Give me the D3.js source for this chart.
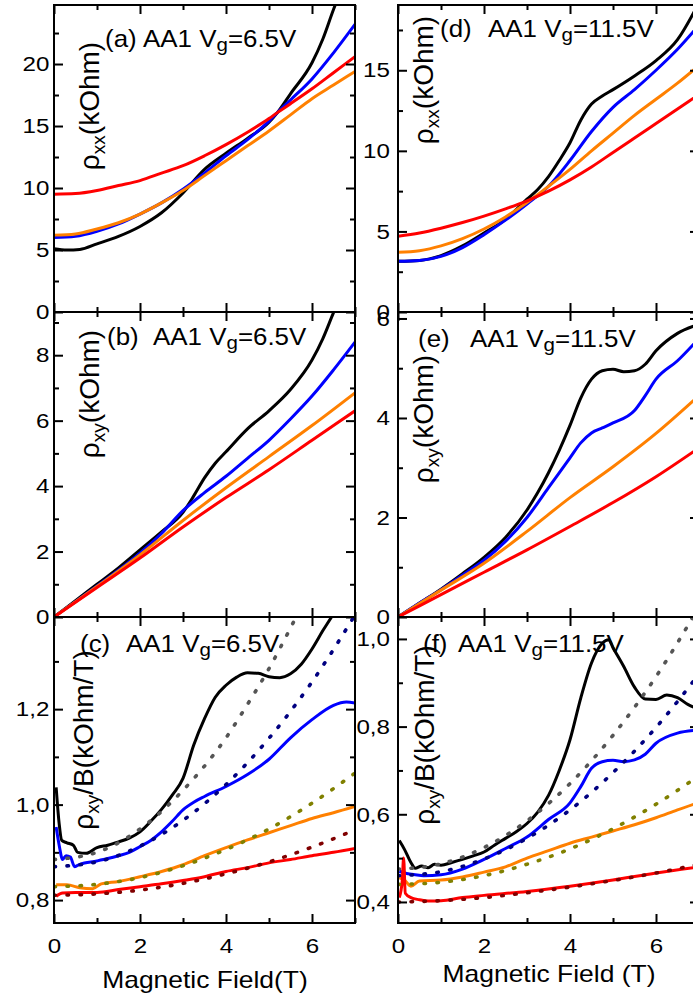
<!DOCTYPE html>
<html><head><meta charset="utf-8">
<script src="https://cdn.jsdelivr.net/npm/d3@7"></script>
<style>body{margin:0;background:#fff}svg{display:block}text{font-family:"Liberation Sans",Arial,sans-serif;fill:#000}</style>
</head><body><svg id="chart" width="693" height="998"></svg>
<script>
// ---------- tick labels ----------
const xMajor = [0, 2, 4, 6];
const xMinor = [1, 3, 5, 7];
const aMajor = [0, 5, 10, 15, 20], aMinor = [2.5, 7.5, 12.5, 17.5, 22.5];
const bMajor = [0, 2, 4, 6, 8], bMinor = [1, 3, 5, 7, 9];
const cMajor = [0.8, 1.0, 1.2], cMinor = [0.9, 1.1, 1.3];
const dMajor = [0, 5, 10, 15], dMinor = [2.5, 7.5, 12.5, 17.5];
const eMajor = [0, 2, 4, 6], eMinor = [1, 3, 5];
const fMajor = [0.4, 0.6, 0.8, 1.0], fMinor = [0.5, 0.7, 0.9];

// ---------- panel (a): rho_xx, Vg=6.5V ----------
const a_black = [[0,5.1],[0.3,5.0],[0.6,5.05],[1,5.5],[1.5,6.1],[2,6.9],[2.5,8.0],[3,9.6],[3.5,11.5],[4,12.8],[4.5,14.0],[5,15.3],[5.2,16.1],[5.5,17.6],[6,20.1],[6.25,22.0],[6.5,24.4],[7,28.5]];
const a_blue = [[0,6.0],[0.5,6.1],[1,6.5],[1.5,7.1],[2,7.9],[2.5,8.8],[3,9.9],[3.5,11.2],[4,12.6],[4.5,13.9],[5,15.4],[5.2,16.1],[5.5,17.1],[6,18.8],[6.5,20.9],[7,23.2]];
const a_orange = [[0,6.2],[0.5,6.3],[1,6.7],[1.5,7.2],[2,7.9],[2.5,8.8],[3,9.8],[3.5,11.0],[4,12.2],[4.5,13.4],[5,14.6],[5.5,15.9],[6,17.2],[6.5,18.3],[7,19.4]];
const a_red = [[0,9.5],[0.5,9.55],[1,9.8],[1.5,10.2],[2,10.6],[2.5,11.2],[3,11.8],[3.5,12.6],[4,13.5],[4.5,14.5],[5,15.6],[5.2,16.1],[5.5,16.8],[6,18.0],[6.5,19.3],[7,20.6]];

// ---------- panel (b): rho_xy, Vg=6.5V ----------
const b_black = [[0,0],[0.5,0.5],[1,1.0],[1.5,1.5],[2,2.05],[2.5,2.6],[3,3.2],[3.25,3.7],[3.5,4.25],[3.75,4.7],[4,5.05],[4.5,5.75],[5,6.3],[5.5,6.95],[6,7.85],[6.25,8.5],[6.5,9.3],[7,10.8]];
const b_blue = [[0,0],[1,0.95],[2,1.95],[2.5,2.55],[3,3.25],[3.5,3.8],[4,4.3],[4.5,4.85],[5,5.4],[5.5,6.05],[6,6.75],[6.5,7.55],[7,8.4]];
const b_orange = [[0,0],[1,0.93],[2,1.9],[3,2.95],[4,3.95],[5,4.9],[6,5.85],[7,6.85]];
const b_red = [[0,0],[1,0.9],[2,1.8],[3,2.75],[4,3.65],[5,4.5],[6,5.4],[7,6.3]];

// ---------- panel (c): rho_xy/B, Vg=6.5V ----------
const c_black = [[0.05,1.036],[0.12,0.96],[0.18,0.925],[0.3,0.92],[0.45,0.915],[0.55,0.9],[0.75,0.898],[1,0.91],[1.25,0.915],[1.5,0.922],[1.75,0.93],[2,0.943],[2.25,0.965],[2.5,0.99],[2.75,1.02],[3,1.055],[3.25,1.125],[3.5,1.18],[3.75,1.225],[4,1.25],[4.25,1.267],[4.5,1.276],[4.75,1.275],[5,1.268],[5.25,1.266],[5.5,1.274],[5.75,1.294],[6,1.326],[6.25,1.364],[6.5,1.4],[7,1.49]];
const c_blue = [[0.05,0.953],[0.12,0.915],[0.2,0.885],[0.28,0.893],[0.38,0.89],[0.48,0.87],[0.6,0.875],[1,0.882],[1.25,0.887],[1.5,0.893],[1.75,0.9],[2,0.912],[2.25,0.925],[2.5,0.943],[2.75,0.965],[3,0.989],[3.25,1.005],[3.5,1.017],[4,1.038],[4.5,1.063],[5,1.095],[5.5,1.14],[6,1.178],[6.5,1.208],[6.8,1.215],[7,1.213]];
const c_orange = [[0.05,0.832],[0.3,0.832],[0.6,0.826],[0.9,0.824],[1.1,0.834],[1.5,0.839],[2,0.849],[2.5,0.86],[3,0.874],[3.5,0.893],[4,0.91],[4.5,0.926],[5,0.941],[5.5,0.956],[6,0.971],[6.5,0.983],[7,0.996]];
const c_red = [[0.05,0.808],[0.2,0.815],[0.5,0.816],[1,0.816],[1.5,0.822],[2,0.828],[2.5,0.834],[3,0.841],[3.5,0.849],[4,0.86],[4.5,0.868],[5,0.878],[5.5,0.885],[6,0.893],[6.5,0.9],[7,0.908]];
const c_fitBlack = [[0,0.885],[1,0.9],[2,0.949],[3,1.03],[4,1.14],[4.5,1.21],[5,1.285],[5.5,1.37],[6,1.46]];
const c_fitBlue = [[0,0.87],[1,0.88],[2,0.913],[3,0.967],[4,1.042],[5,1.139],[6,1.257],[7,1.397]];
const c_fitOrange = [[0,0.828],[1,0.833],[2,0.847],[3,0.872],[4,0.906],[5,0.949],[6,1.003],[7,1.066]];
const c_fitRed = [[0,0.81],[1,0.813],[2,0.821],[3,0.835],[4,0.855],[5,0.88],[6,0.911],[7,0.947]];

// ---------- panel (d): rho_xx, Vg=11.5V ----------
const d_black = [[0,3.15],[0.5,3.2],[1,3.5],[1.5,4.1],[2,4.9],[2.5,5.75],[3,7.0],[3.25,7.6],[3.5,8.4],[3.75,9.4],[4,10.5],[4.25,11.9],[4.5,12.9],[4.75,13.4],[5,13.8],[5.5,14.65],[6,15.6],[6.5,16.9],[7,19.2]];
const d_blue = [[0,3.15],[0.5,3.2],[1,3.45],[1.5,4.0],[2,4.8],[2.5,5.7],[3,6.7],[3.5,7.8],[4,9.4],[4.5,11.2],[5,12.7],[5.5,13.8],[6,15.0],[6.5,16.3],[7,17.8]];
const d_orange = [[0,3.7],[0.5,3.8],[1,4.1],[1.5,4.55],[2,5.15],[2.5,5.9],[3,6.8],[3.5,7.8],[4,8.85],[4.5,10.0],[5,11.1],[5.5,12.2],[6,13.2],[6.5,14.2],[7,15.3]];
const d_red = [[0,4.7],[0.5,4.9],[1,5.2],[1.5,5.55],[2,5.95],[2.5,6.4],[3,6.9],[3.5,7.5],[4,8.2],[4.5,9.0],[5,9.9],[5.5,10.8],[6,11.7],[6.5,12.6],[7,13.5]];

// ---------- panel (e): rho_xy, Vg=11.5V ----------
const e_black = [[0,0],[0.5,0.28],[1,0.56],[1.5,0.87],[2,1.2],[2.5,1.6],[3,2.15],[3.25,2.5],[3.5,2.9],[3.75,3.35],[4,3.85],[4.25,4.4],[4.5,4.78],[4.75,4.95],[5,4.98],[5.25,4.93],[5.5,4.95],[5.75,5.08],[6,5.35],[6.5,5.7],[7,5.88]];
const e_blue = [[0,0],[0.5,0.28],[1,0.55],[1.5,0.84],[2,1.14],[2.5,1.52],[3,2.0],[3.5,2.6],[4,3.2],[4.25,3.5],[4.5,3.7],[4.75,3.8],[5,3.9],[5.5,4.15],[5.75,4.45],[6,4.78],[6.5,5.15],[7,5.6]];
const e_orange = [[0,0],[1,0.54],[2,1.08],[3,1.72],[4,2.4],[5,3.02],[6,3.69],[7,4.45]];
const e_red = [[0,0],[1,0.45],[2,0.9],[3,1.35],[4,1.82],[5,2.3],[6,2.82],[7,3.4]];

// ---------- panel (f): rho_xy/B, Vg=11.5V ----------
const f_black = [[0.03,0.54],[0.15,0.52],[0.3,0.49],[0.4,0.477],[0.55,0.482],[0.7,0.478],[0.85,0.486],[1,0.484],[1.25,0.49],[1.5,0.497],[1.75,0.505],[2,0.514],[2.25,0.53],[2.5,0.545],[2.75,0.56],[3,0.579],[3.25,0.605],[3.5,0.643],[3.75,0.7],[4,0.77],[4.25,0.865],[4.5,0.945],[4.75,0.99],[4.9,0.998],[5,0.98],[5.25,0.937],[5.5,0.89],[5.75,0.863],[6,0.862],[6.25,0.872],[6.5,0.866],[6.75,0.85],[7,0.84]];
const f_blue = [[0.03,0.47],[0.2,0.465],[0.4,0.462],[0.6,0.46],[1,0.462],[1.5,0.475],[2,0.497],[2.5,0.522],[3,0.548],[3.5,0.588],[4,0.626],[4.25,0.663],[4.5,0.705],[4.75,0.72],[5,0.723],[5.25,0.72],[5.5,0.724],[5.75,0.737],[6,0.762],[6.5,0.785],[7,0.792]];
const f_orange = [[0.03,0.455],[0.15,0.45],[0.3,0.436],[0.5,0.448],[1,0.45],[1.5,0.457],[2,0.468],[2.5,0.48],[3,0.5],[3.5,0.517],[4,0.534],[4.5,0.548],[5,0.562],[5.5,0.576],[6,0.592],[6.5,0.61],[7,0.627]];
const f_red = [[0.03,0.41],[0.1,0.45],[0.13,0.5],[0.17,0.42],[0.3,0.41],[0.5,0.405],[0.7,0.402],[1,0.403],[1.5,0.41],[2,0.415],[3,0.424],[4,0.436],[5,0.45],[6,0.466],[7,0.48]];
const f_fitBlack = [[0,0.475],[1,0.487],[2,0.524],[3,0.585],[4,0.67],[5,0.78],[6,0.914],[7,1.073]];
const f_fitBlue = [[0,0.46],[1,0.469],[2,0.498],[3,0.545],[4,0.61],[5,0.695],[6,0.798],[7,0.92]];
const f_fitOrange = [[0,0.44],[1,0.445],[2,0.46],[3,0.486],[4,0.521],[5,0.567],[6,0.623],[7,0.688]];
const f_fitRed = [[0,0.4],[1,0.403],[2,0.41],[3,0.421],[4,0.434],[5,0.449],[6,0.466],[7,0.486]];

// ---------- styling / layout ----------
const COL = {black:"#000000", blue:"#0000ff", orange:"#ff8000", red:"#ff0000"};
const FIT = {black:"#555555", blue:"#000080", orange:"#808000", red:"#800000"};
const colX = [54, 398], PW = 301;
const rowY = [5, 312, 617, 923];
const SX = 1.15;

const svg = d3.select("#chart");
svg.append("rect").attr("width",693).attr("height",998).attr("fill","#fff");

const comma = d => d3.format(".1f")(d).replace(".", ",");
const panels = [
  {k:"a", col:0,row:0, dom:[0,24.76], major:aMajor, minor:aMinor, fmt:d=>d,
   lines:[["black",a_black],["blue",a_blue],["orange",a_orange],["red",a_red]], fits:[],
   tag:"(a)", tagX:105, mainX:143, ty:47, vg:"=6.5V",
   yl:{sub:"xx", rest:"(kOhm)", x:99, cy:106}},
  {k:"b", col:0,row:1, dom:[0,9.32], major:bMajor, minor:bMinor, fmt:d=>d,
   lines:[["black",b_black],["blue",b_blue],["orange",b_orange],["red",b_red]], fits:[],
   tag:"(b)", tagX:107, mainX:153, ty:345, vg:"=6.5V",
   yl:{sub:"xy", rest:"(kOhm)", x:99, cy:394}},
  {k:"c", col:0,row:2, dom:[0.752,1.393], major:cMajor, minor:cMinor, fmt:comma,
   lines:[["black",c_black],["blue",c_blue],["orange",c_orange],["red",c_red]],
   fits:[["black",c_fitBlack],["blue",c_fitBlue],["orange",c_fitOrange],["red",c_fitRed]],
   tag:"(c)", tagX:80, mainX:126, ty:652, vg:"=6.5V",
   yl:{sub:"xy", rest:"/B(kOhm/T)", x:93, cy:740}},
  {k:"d", col:1,row:0, dom:[0,19.05], major:dMajor, minor:dMinor, fmt:d=>d,
   lines:[["black",d_black],["blue",d_blue],["orange",d_orange],["red",d_red]], fits:[],
   tag:"(d)", tagX:440, mainX:488, ty:37, vg:"=11.5V",
   yl:{sub:"xx", rest:"(kOhm)", x:433, cy:80}},
  {k:"e", col:1,row:1, dom:[0,6.13], major:eMajor, minor:eMinor, fmt:d=>d,
   lines:[["black",e_black],["blue",e_blue],["orange",e_orange],["red",e_red]], fits:[],
   tag:"(e)", tagX:418, mainX:470, ty:347, vg:"=11.5V",
   yl:{sub:"xy", rest:"(kOhm)", x:433, cy:419}},
  {k:"f", col:1,row:2, dom:[0.352,1.05], major:fMajor, minor:fMinor, fmt:comma,
   lines:[["black",f_black],["blue",f_blue],["orange",f_orange],["red",f_red]],
   fits:[["black",f_fitBlack],["blue",f_fitBlue],["orange",f_fitOrange],["red",f_fitRed]],
   tag:"(f)", tagX:423, mainX:458, ty:652, vg:"=11.5V",
   yl:{sub:"xy", rest:"/B(kOhm/T)", x:434, cy:735}}
];

const defs = svg.append("defs");

function styleAxis(sel, withText) {
  sel.select(".domain").remove();
  sel.selectAll(".tick line").attr("stroke","#000").attr("stroke-width",2);
  sel.attr("font-size",21).attr("font-family","'Liberation Sans', Arial, sans-serif");
  if (withText) sel.selectAll(".tick text").attr("fill","#000").attr("transform",`scale(${SX},1)`);
}

panels.forEach(p => {
  const x0 = colX[p.col], y0 = rowY[p.row], y1 = rowY[p.row+1];
  const xs = d3.scaleLinear().domain([0,7]).range([x0, x0+PW]);
  const ys = d3.scaleLinear().domain(p.dom).range([y1, y0]);
  const clipId = "clip-"+p.k;
  defs.append("clipPath").attr("id",clipId).append("rect")
    .attr("x",x0).attr("y",y0).attr("width",PW).attr("height",y1-y0);
  const g = svg.append("g");
  const plot = g.append("g").attr("clip-path",`url(#${clipId})`);
  const line = d3.line().x(d=>xs(d[0])).y(d=>ys(d[1])).curve(d3.curveMonotoneX);
  p.lines.forEach(([c,data]) => {
    plot.append("path").datum(data).attr("d",line).attr("fill","none")
      .attr("stroke",COL[c]).attr("stroke-width",3).attr("stroke-linejoin","round");
  });
  p.fits.forEach(([c,data]) => {
    plot.append("path").datum(data).attr("d",line).attr("fill","none")
      .attr("stroke",FIT[c]).attr("stroke-width",3.6).attr("stroke-linecap","round")
      .attr("stroke-dasharray","1.5 11.5");
  });

  const pad = p.col===0 ? 4 : 7;
  g.append("g").attr("transform",`translate(${x0},0)`)
    .call(d3.axisLeft(ys).tickValues(p.major).tickSize(-9).tickPadding(pad).tickFormat(p.fmt))
    .call(s=>styleAxis(s,true));
  g.append("g").attr("transform",`translate(${x0},0)`)
    .call(d3.axisLeft(ys).tickValues(p.minor).tickSize(-5).tickFormat(""))
    .call(s=>styleAxis(s,false));
  g.append("g").attr("transform",`translate(${x0+PW},0)`)
    .call(d3.axisRight(ys).tickValues(p.major).tickSize(-9).tickFormat(""))
    .call(s=>styleAxis(s,false));
  g.append("g").attr("transform",`translate(${x0+PW},0)`)
    .call(d3.axisRight(ys).tickValues(p.minor).tickSize(-5).tickFormat(""))
    .call(s=>styleAxis(s,false));
  g.append("g").attr("transform",`translate(0,${y0})`)
    .call(d3.axisTop(xs).tickValues(xMajor).tickSize(-9).tickFormat(""))
    .call(s=>styleAxis(s,false));
  g.append("g").attr("transform",`translate(0,${y0})`)
    .call(d3.axisTop(xs).tickValues(xMinor).tickSize(-5).tickFormat(""))
    .call(s=>styleAxis(s,false));
  const bottomLabels = p.row===2;
  g.append("g").attr("transform",`translate(0,${y1})`)
    .call(d3.axisBottom(xs).tickValues(xMajor).tickSize(-9).tickPadding(15)
      .tickFormat(bottomLabels ? d3.format("d") : ""))
    .call(s=>styleAxis(s,bottomLabels));
  g.append("g").attr("transform",`translate(0,${y1})`)
    .call(d3.axisBottom(xs).tickValues(xMinor).tickSize(-5).tickFormat(""))
    .call(s=>styleAxis(s,false));
  g.append("rect").attr("x",x0).attr("y",y0).attr("width",PW).attr("height",y1-y0)
    .attr("fill","none").attr("stroke","#000").attr("stroke-width",2);

  g.append("text").attr("transform",`translate(${p.tagX},${p.ty}) scale(1.08,1)`)
    .attr("font-size",24).text(p.tag);
  const t = g.append("text").attr("transform",`translate(${p.mainX},${p.ty}) scale(1.08,1)`)
    .attr("font-size",24);
  t.append("tspan").text("AA1 V");
  t.append("tspan").attr("font-size",19).attr("dy",4).text("g");
  t.append("tspan").attr("dy",-4).text(p.vg);

  const yl = g.append("text").attr("transform",`translate(${p.yl.x},${p.yl.cy}) rotate(-90)`)
    .attr("font-size",28).attr("text-anchor","middle");
  yl.append("tspan").text("ρ");
  yl.append("tspan").attr("font-size",19).attr("dy",6).text(p.yl.sub);
  yl.append("tspan").attr("dy",-6).text(p.yl.rest);
});

svg.append("text").attr("transform",`translate(205,988) scale(${SX},1)`)
  .attr("font-size",23).attr("text-anchor","middle").text("Magnetic Field(T)");
svg.append("text").attr("transform",`translate(549,982) scale(${SX},1)`)
  .attr("font-size",23).attr("text-anchor","middle").text("Magnetic Field (T)");
</script>
</body></html>
